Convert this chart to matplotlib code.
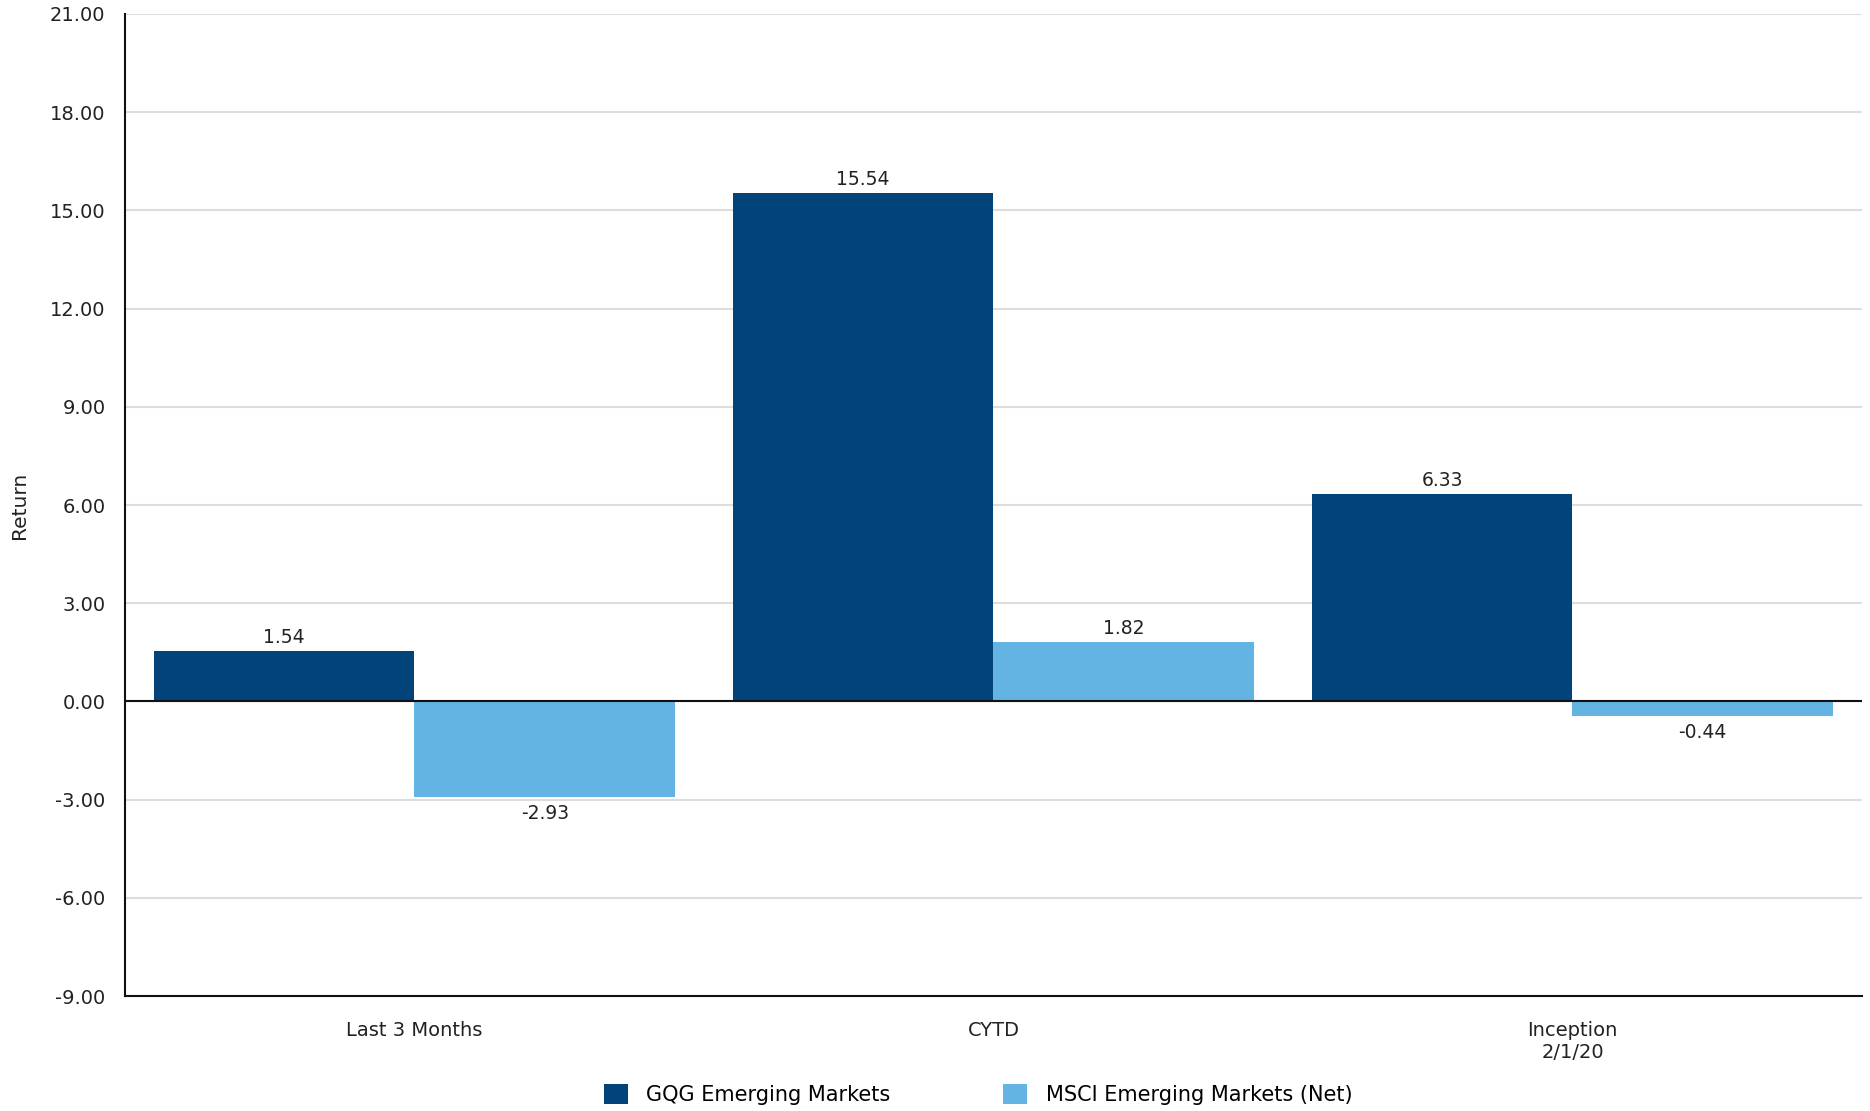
import numpy as np
import matplotlib.pyplot as plt

categories = ["Last 3 Months", "CYTD", "Inception\n2/1/20"]
gqg = [1.54, 15.54, 6.33]
msci = [-2.93, 1.82, -0.44]
series_names = ["GQG Emerging Markets", "MSCI Emerging Markets (Net)"]
yticks = [-9, -6, -3, 0, 3, 6, 9, 12, 15, 18, 21]

dark = "#02447a"
light = "#63b3e3"

plt.rcParams['font.family'] = ['DejaVu Sans']

fig = plt.figure(figsize=(18.7, 11.11), dpi=100)
ax = fig.add_axes([0.0668, 0.1035, 0.9289, 0.8839])

x = np.arange(len(categories))
w = 0.45
b1 = ax.bar(x - w / 2, gqg, w, color=dark, label=series_names[0], zorder=2)
b2 = ax.bar(x + w / 2, msci, w, color=light, label=series_names[1], zorder=2)

for bars, vals in [(b1, gqg), (b2, msci)]:
    for r, v in zip(bars, vals):
        cx = r.get_x() + r.get_width() / 2
        if v >= 0:
            ax.annotate(f"{v:.2f}", (cx, v), xytext=(0, 3), textcoords="offset points",
                        ha="center", va="bottom", fontsize=13.5, color="#222222")
        else:
            ax.annotate(f"{v:.2f}", (cx, v), xytext=(0, -5), textcoords="offset points",
                        ha="center", va="top", fontsize=13.5, color="#222222")

ax.set_xlim(-0.5, 2.5)
ax.set_ylim(-9, 21)
ax.set_yticks(yticks)
ax.set_yticklabels([f"{t:.2f}" for t in yticks])
ax.set_xticks(x)
ax.set_xticklabels(categories)
ax.tick_params(axis="y", length=0, pad=14, labelsize=14, colors="#222222")
ax.tick_params(axis="x", length=0, pad=18, labelsize=14, colors="#222222")
ax.yaxis.grid(True, color="#dddddd", linewidth=1.5, zorder=0)
ax.axhline(0, color="#111111", linewidth=1.5, zorder=3)

for s in ["top", "right"]:
    ax.spines[s].set_visible(False)
for s in ["left", "bottom"]:
    ax.spines[s].set_color("#111111")
    ax.spines[s].set_linewidth(1.5)

ax.set_ylabel("Return", fontsize=14.5, color="#222222")
ax.yaxis.set_label_coords(-0.055, 0.5)

fig.legend(handles=[b1, b2], labels=series_names, loc="center",
           bbox_to_anchor=(0.523, 0.015), ncol=2, frameon=False, fontsize=15,
           handlelength=1.15, handleheight=1.15, columnspacing=5.4, handletextpad=0.9)

fig.savefig("out.png", dpi=100)
